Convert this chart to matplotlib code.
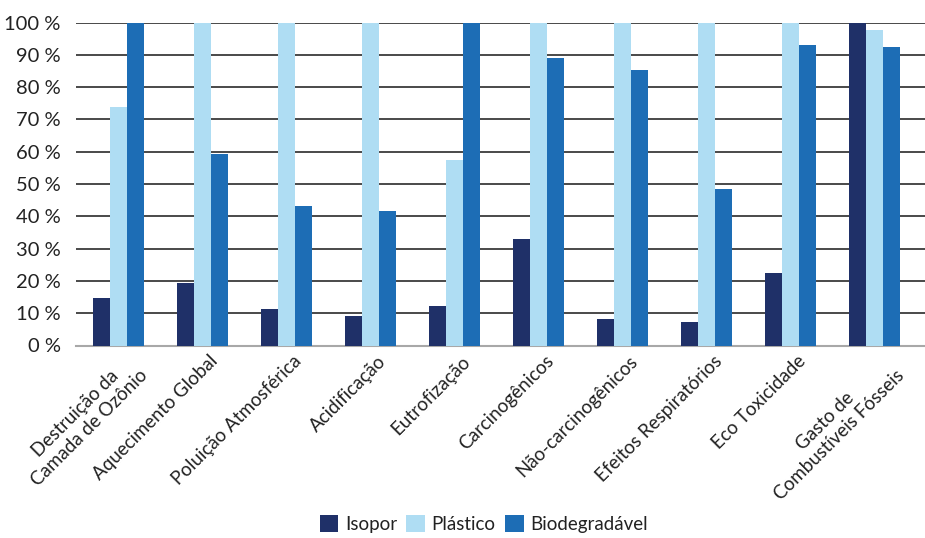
import numpy as np
import matplotlib.pyplot as plt
import matplotlib.ticker as tkr

plt.rcParams['font.family'] = ['Lato', 'DejaVu Sans']

# Impact categories and relative scores (% of worst case per category)
categories = [
    'Destruição da\nCamada de Ozônio', 'Aquecimento Global', 'Poluição Atmosférica',
    'Acidificação', 'Eutrofização', 'Carcinogênicos', 'Não-carcinogênicos',
    'Efeitos Respiratórios', 'Eco Toxicidade', 'Gasto de\nCombustíveis Fósseis'
]
isopor = [14.8, 19.5, 11.3, 9.2, 12.3, 33.0, 8.3, 7.3, 22.5, 100.0]
plastico = [73.9, 100.0, 100.0, 100.0, 57.4, 100.0, 100.0, 100.0, 100.0, 97.6]
biodegradavel = [100.0, 59.3, 43.2, 41.6, 100.0, 89.0, 85.2, 48.5, 93.0, 92.4]

series = [('Isopor', isopor, '#1f3068'),
          ('Plástico', plastico, '#afddf3'),
          ('Biodegradável', biodegradavel, '#1d6db5')]

fig = plt.figure(figsize=(9.25, 5.38), dpi=100)
ax = fig.add_axes([76/925, 1 - 345.5/538, 849/925, 323/538])

x = np.arange(len(categories))
w = 0.2024
for i, (name, vals, col) in enumerate(series):
    ax.bar(x + (i - 1) * w, vals, width=w, color=col, label=name, zorder=3)

ax.set_xlim(-0.5, 9.6)
ax.set_ylim(0, 100)
ax.set_yticks(np.arange(0, 101, 10))
ax.yaxis.set_major_formatter(tkr.FuncFormatter(lambda v, p: f'{v:.0f} %'))
ax.grid(axis='y', color='#3a3a3a', linewidth=1.3, zorder=0)
ax.set_axisbelow(True)

for side in ['top', 'right', 'left']:
    ax.spines[side].set_visible(False)
ax.spines['bottom'].set_color('#a8a8a8')
ax.spines['bottom'].set_linewidth(1.5)
ax.tick_params(axis='y', length=0, labelsize=14.5, colors='#222222', pad=11)
ax.tick_params(axis='x', length=0, pad=5)

ax.set_xticks(x + 0.08)
ax.set_xticklabels(categories, rotation=45, ha='right', va='top',
                   rotation_mode='anchor', multialignment='center',
                   fontsize=13.5, color='#222222')

handles, labels = ax.get_legend_handles_labels()
fig.legend(handles, labels, loc='lower center', bbox_to_anchor=(0.523, -0.022),
           ncol=3, frameon=False, fontsize=13.5, handlelength=1.0, handleheight=1.0,
           handletextpad=0.35, columnspacing=0.5, labelcolor='#222222')

plt.savefig('out.png', dpi=100)
